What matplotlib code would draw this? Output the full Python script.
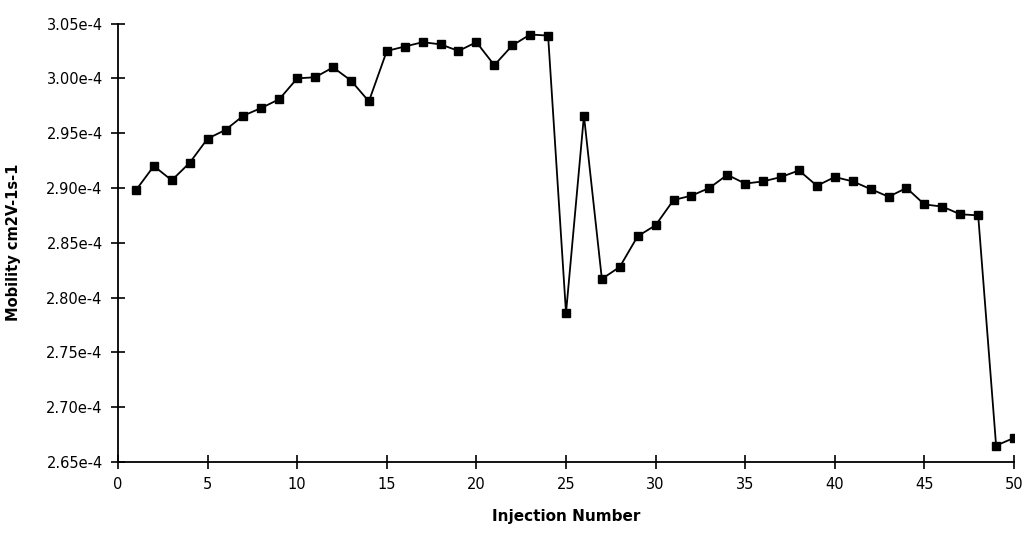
import matplotlib
matplotlib.use("Agg")
import matplotlib.pyplot as plt
from matplotlib.ticker import FuncFormatter

# Injection number vs mobility
injection = list(range(1, 51))
mobility = [
    2.898, 2.920, 2.907, 2.923, 2.945, 2.953, 2.966, 2.973, 2.981, 3.000,
    3.001, 3.010, 2.998, 2.979, 3.025, 3.029, 3.033, 3.031, 3.025, 3.033,
    3.012, 3.030, 3.040, 3.039, 2.786, 2.966, 2.817, 2.828, 2.856, 2.866,
    2.889, 2.893, 2.900, 2.912, 2.904, 2.906, 2.910, 2.916, 2.902, 2.910,
    2.906, 2.899, 2.892, 2.900, 2.885, 2.883, 2.876, 2.875, 2.665, 2.672,
]
mobility = [v * 1e-4 for v in mobility]

x_ticks = list(range(0, 51, 5))
y_ticks = [v * 1e-4 for v in (2.65, 2.70, 2.75, 2.80, 2.85, 2.90, 2.95, 3.00, 3.05)]

fig = plt.figure(figsize=(10.28, 5.35), dpi=100)
ax = fig.add_axes([0.1148, 0.1364, 0.8716, 0.8196])

ax.plot(injection, mobility, color="black", linewidth=1.3,
        marker="s", markersize=6, markerfacecolor="black", markeredgecolor="black")

ax.set_xlim(0, 50)
ax.set_ylim(2.65e-4, 3.05e-4)
ax.set_xticks(x_ticks)
ax.set_yticks(y_ticks)
ax.yaxis.set_major_formatter(FuncFormatter(lambda v, p: f"{v * 1e4:.2f}e-4"))

for side in ("top", "right"):
    ax.spines[side].set_visible(False)
for side in ("left", "bottom"):
    ax.spines[side].set_linewidth(1.3)
ax.tick_params(direction="inout", length=10, width=1.2, labelsize=10.5, pad=6)

ax.set_xlabel("Injection Number", fontsize=11, fontweight="bold", labelpad=12)
ax.set_ylabel("Mobility cm2V-1s-1", fontsize=10.5, fontweight="bold", labelpad=18)

fig.savefig("out.png", dpi=100)
plt.close(fig)
